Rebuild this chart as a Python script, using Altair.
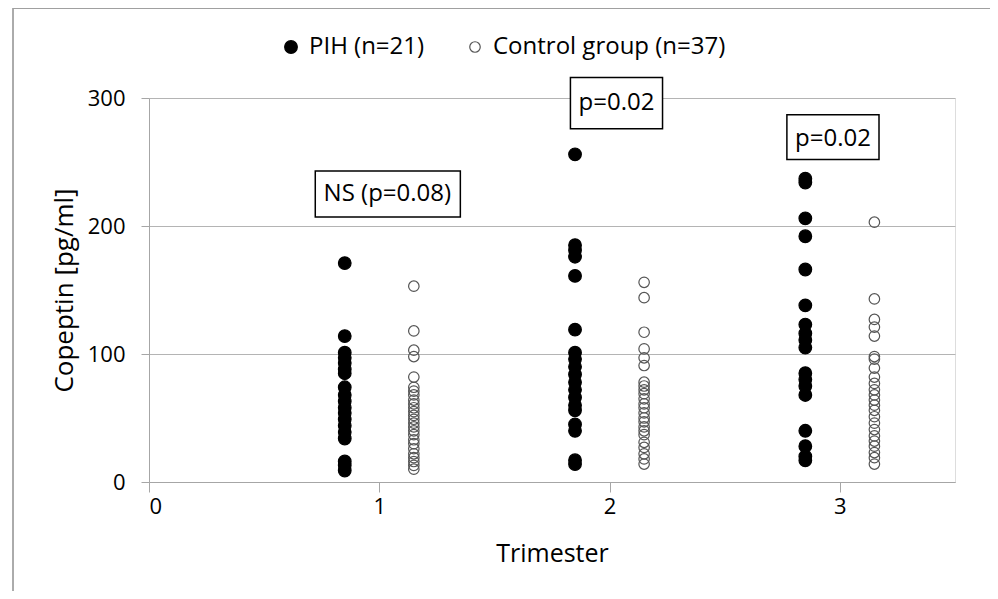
import altair as alt
import pandas as pd

# ---- data ----
groups = ["PIH (n=21)", "Control group (n=37)"]
group_offsets = [-0.15, 0.15]
trimesters = [1, 2, 3]

pih_t1 = [171, 114, 101, 97, 93, 88, 85, 74, 68, 63, 58, 54, 49, 44, 39, 34, 16, 13, 9]
pih_t2 = [256, 185, 181, 176, 161, 119, 101, 96, 90, 84, 78, 72, 66, 60, 56, 45, 40, 17, 14]
pih_t3 = [237, 234, 206, 192, 166, 138, 123, 116, 111, 105, 85, 80, 75, 68, 40, 28, 20, 17]

ctl_t1 = [153, 118, 103, 98, 82, 74, 71, 68, 64, 61, 58, 55, 52, 49, 46, 43, 40, 37, 33, 30,
          26, 22, 19, 16, 13, 10]
ctl_t2 = [156, 144, 117, 104, 97, 91, 78, 75, 72, 69, 65, 61, 58, 54, 50, 47, 43, 40, 37, 31,
          27, 22, 18, 14]
ctl_t3 = [203, 143, 127, 121, 114, 98, 96, 89, 82, 77, 72, 68, 64, 60, 56, 51, 46, 41, 36, 32,
          28, 23, 19, 14]

x_ticks = [0, 1, 2, 3]
y_ticks = [0, 100, 200, 300]

annot_labels = ["NS (p=0.08)", "p=0.02", "p=0.02"]
annot_xc = [1.035, 2.03, 2.97]
annot_yc = [225, 296, 268]
annot_x1 = [0.722, 1.83, 2.77]
annot_x2 = [1.352, 2.23, 3.17]
annot_y1 = [207, 276, 252]
annot_y2 = [243, 316, 287]

# ---- tables ----
rows = []
for t, vals in zip(trimesters, [pih_t1, pih_t2, pih_t3]):
    rows += [{"trimester": t, "group": groups[0], "value": v, "off": group_offsets[0]} for v in vals]
for t, vals in zip(trimesters, [ctl_t1, ctl_t2, ctl_t3]):
    rows += [{"trimester": t, "group": groups[1], "value": v, "off": group_offsets[1]} for v in vals]
df = pd.DataFrame(rows)

ann = pd.DataFrame({"label": annot_labels, "xc": annot_xc, "yc": annot_yc,
                    "x1": annot_x1, "x2": annot_x2, "y1": annot_y1, "y2": annot_y2})

FONT = "Open Sans"
xscale = alt.Scale(domain=[0, 3.5], nice=False, zero=False)
yscale = alt.Scale(domain=[0, 300], nice=False)


def legend():
    return alt.Legend(title=None, orient="none", legendX=130, legendY=-63,
                      direction="horizontal", labelFontSize=24, labelFont=FONT,
                      labelColor="#000", columnPadding=38, labelOffset=6, labelLimit=0,
                      symbolStrokeWidth=1.2)


points = alt.Chart(df).transform_calculate(
    xpos="datum.trimester + datum.off"
).mark_point(shape="circle", filled=True, strokeWidth=1.2, opacity=1).encode(
    x=alt.X("xpos:Q", scale=xscale,
            axis=alt.Axis(values=x_ticks, format="d", grid=False, title="Trimester", tickSize=10,
                          labelPadding=4, domainColor="#a6a6a6", tickColor="#a6a6a6",
                          labelFontSize=22, labelFont=FONT, labelColor="#000",
                          titleFontSize=25, titleFont=FONT, titleFontWeight="normal",
                          titleColor="#000", titleX=403, titleY=71, titleBaseline="middle")),
    y=alt.Y("value:Q", scale=yscale,
            axis=alt.Axis(values=y_ticks, format="d", grid=True, gridColor="#b4b4b4",
                          title="Copeptin [pg/ml]",
                          tickSize=8, labelPadding=16, domainColor="#a6a6a6", tickColor="#a6a6a6",
                          labelFontSize=22, labelFont=FONT, labelColor="#000",
                          titleFontSize=26, titleFont=FONT, titleFontWeight="normal",
                          titleColor="#000", titleX=-85, titleY=192, titleAngle=-90,
                          titleAlign="center", titleBaseline="middle")),
    fill=alt.Fill("group:N", scale=alt.Scale(domain=groups, range=["#000000", "transparent"]),
                  legend=legend()),
    stroke=alt.Stroke("group:N", scale=alt.Scale(domain=groups, range=["#000000", "#555555"]),
                      legend=legend()),
    size=alt.Size("group:N", scale=alt.Scale(domain=groups, range=[160, 110]),
                  legend=legend()),
)

boxes = alt.Chart(ann).mark_rect(fill="white", stroke="#000", strokeWidth=1.5).encode(
    x=alt.X("x1:Q", scale=xscale), x2="x2:Q",
    y=alt.Y("y1:Q", scale=yscale), y2="y2:Q",
)
texts = alt.Chart(ann).mark_text(font=FONT, fontSize=24, color="#000", baseline="middle").encode(
    x=alt.X("xc:Q", scale=xscale), y=alt.Y("yc:Q", scale=yscale), text="label:N"
)

frame_top = alt.Chart(ann).mark_rule(color="#a0a0a0", strokeWidth=1).encode(
    x=alt.value(-136), x2=alt.value(841), y=alt.value(-89.5)
)
frame_left = alt.Chart(ann).mark_rule(color="#a0a0a0", strokeWidth=1).encode(
    x=alt.value(-136), y=alt.value(-90), y2=alt.value(493)
)

chart = alt.layer(frame_top, frame_left, points, boxes, texts).properties(
    width=806, height=384,
    autosize=alt.AutoSizeParams(type="none"),
    padding={"left": 141, "top": 90, "right": 35, "bottom": 109},
).configure_view(stroke=None).configure(background="white")

chart.save("out.html", embed_options={"renderer": "svg", "actions": False})
